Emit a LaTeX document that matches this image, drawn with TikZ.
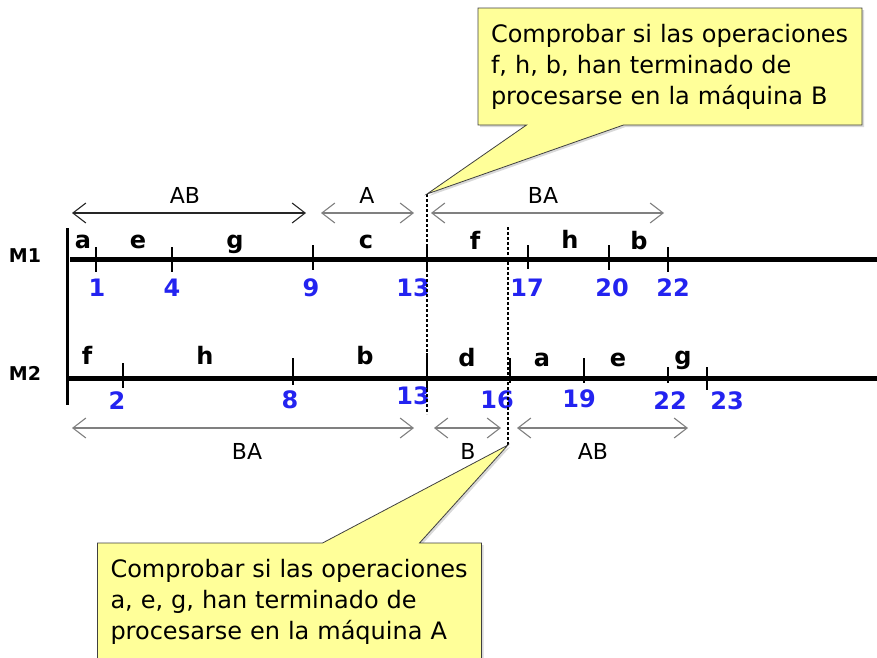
\documentclass[tikz,border=0pt]{standalone}
\usepackage{fontspec}
\setmainfont{DejaVu Sans}
\usetikzlibrary{arrows.meta,shapes.callouts,shadows}

\definecolor{timeblue}{RGB}{35,35,240}
\definecolor{noteyellow}{RGB}{255,255,153}

\tikzset{machine/.style={%
  line width=5pt,
  }
}
\tikzset{ticmark/.style={%
  line width=1.3pt,
  }
}
\tikzset{guide/.style={%
  dash pattern=on 3pt off 2pt,
  line width=1.3pt,
  }
}
\tikzset{optext/.style={%
  font=\bfseries\fontsize{24}{24}\selectfont,
  anchor=base,
  inner sep=0pt,
  }
}
\tikzset{timetext/.style={%
  font=\bfseries\fontsize{24}{24}\selectfont,
  text=timeblue,
  inner sep=0pt,
  }
}
\tikzset{machinetext/.style={%
  font=\bfseries\fontsize{19}{19}\selectfont,
  inner sep=0pt,
  }
}
\tikzset{spanarrow/.style={%
  {Straight Barb[length=13pt,width=20pt]}-{Straight Barb[length=13pt,width=20pt]},
  line width=1.1pt,
  draw=black!50,
  }
}
\tikzset{spantext/.style={%
  font=\fontsize{22}{22}\selectfont,
  inner sep=0pt,
  }
}
\tikzset{notebox/.style={%
  rectangle callout,
  callout pointer width=97pt,
  draw=black!75,
  line width=0.8pt,
  fill=noteyellow,
  drop shadow={shadow xshift=2pt,shadow yshift=-2pt,opacity=0.3},
  font=\fontsize{24}{31}\selectfont,
  align=left,
  text width=358pt,
  inner xsep=13pt,
  minimum height=117pt,
  }
}

\begin{document}
\begin{tikzpicture}[x=1pt,y=-1pt]
  \useasboundingbox (0,0) rectangle (877,657);

  % machines
  \node (M1) [machinetext] at (25,256) {M1};
  \node (M2) [machinetext] at (25,373) {M2};
  \coordinate (axistop) at (67,228);
  \coordinate (axisbot) at (67,405);
  \draw [line width=3pt] (axistop) -- (axisbot);

  \coordinate (m1start) at (70,259);
  \coordinate (m1end) at (877,259);
  \coordinate (m2start) at (67,378);
  \coordinate (m2end) at (877,378);
  \draw [machine] (m1start) -- (m1end);
  \draw [machine] (m2start) -- (m2end);

  % ticks
  \draw [ticmark] (96,247) -- (96,272) (172,247) -- (172,272) (313,245) -- (313,270)
    (427,246) -- (427,271) (528,245) -- (528,269) (609,245) -- (609,270) (668,247) -- (668,272);
  \draw [ticmark] (123,363) -- (123,388) (293,358) -- (293,385) (427,353) -- (427,390)
    (510,358) -- (510,383) (584,358) -- (584,383) (668,367) -- (668,383) (707,367) -- (707,390);

  % operations on M1
  \node (m1a) [optext] at (83,248) {a};
  \node (m1e) [optext] at (138,248) {e};
  \node (m1g) [optext] at (235,248) {g};
  \node (m1c) [optext] at (366,248) {c};
  \node (m1f) [optext] at (475,249) {f};
  \node (m1h) [optext] at (570,248) {h};
  \node (m1b) [optext] at (639,249) {b};

  % operations on M2
  \node (m2f) [optext] at (87,364) {f};
  \node (m2h) [optext] at (205,364) {h};
  \node (m2b) [optext] at (365,364) {b};
  \node (m2d) [optext] at (467,366) {d};
  \node (m2a) [optext] at (542,366) {a};
  \node (m2e) [optext] at (618,366) {e};
  \node (m2g) [optext] at (683,364) {g};

  % times on M1
  \node (m1t1) [timetext] at (97,288) {1};
  \node (m1t4) [timetext] at (172,288) {4};
  \node (m1t9) [timetext] at (311,288) {9};
  \node (m1t13) [timetext] at (413,288) {13};
  \node (m1t17) [timetext] at (527,288) {17};
  \node (m1t20) [timetext] at (612,288) {20};
  \node (m1t22) [timetext] at (673,288) {22};

  % times on M2
  \node (m2t2) [timetext] at (117,401) {2};
  \node (m2t8) [timetext] at (290,400) {8};
  \node (m2t13) [timetext] at (413,396) {13};
  \node (m2t16) [timetext] at (497,400) {16};
  \node (m2t19) [timetext] at (579,399) {19};
  \node (m2t22) [timetext] at (670,401) {22};
  \node (m2t23) [timetext] at (727,401) {23};

  % sequences above M1
  \coordinate (topABl) at (72,213);
  \coordinate (topABr) at (306,213);
  \coordinate (topAl) at (321,213);
  \coordinate (topAr) at (414,213);
  \coordinate (topBAl) at (431,213);
  \coordinate (topBAr) at (664,213);
  \draw [spanarrow, draw=black!85] (topABl) -- (topABr);
  \draw [spanarrow] (topAl) -- (topAr);
  \draw [spanarrow] (topBAl) -- (topBAr);
  \node (topAB) [spantext] at (185,195) {AB};
  \node (topA) [spantext] at (367,195) {A};
  \node (topBA) [spantext] at (543,195) {BA};

  % sequences below M2
  \coordinate (botBAl) at (72,428);
  \coordinate (botBAr) at (414,428);
  \coordinate (botBl) at (434,428);
  \coordinate (botBr) at (501,428);
  \coordinate (botABl) at (517,428);
  \coordinate (botABr) at (688,428);
  \draw [spanarrow] (botBAl) -- (botBAr);
  \draw [spanarrow] (botBl) -- (botBr);
  \draw [spanarrow] (botABl) -- (botABr);
  \node (botBA) [spantext] at (247,451) {BA};
  \node (botB) [spantext] at (468,451) {B};
  \node (botAB) [spantext] at (593,451) {AB};

  % check points
  \coordinate (tipB) at (427,194);
  \coordinate (endB) at (427,414);
  \coordinate (tipA) at (508,445);
  \coordinate (endA) at (508,227);
  \draw [guide] (tipB) -- (endB);
  \draw [guide] (tipA) -- (endA);

  \node (noteB) [notebox, callout absolute pointer=(tipB)] at (670,66.5)
    {Comprobar si las operaciones\\f, h, b, han terminado de\\procesarse en la máquina B};
  \node (noteA) [notebox, callout absolute pointer=(tipA)] at (289.5,601.5)
    {Comprobar si las operaciones\\a, e, g, han terminado de\\procesarse en la máquina A};
\end{tikzpicture}
\end{document}
